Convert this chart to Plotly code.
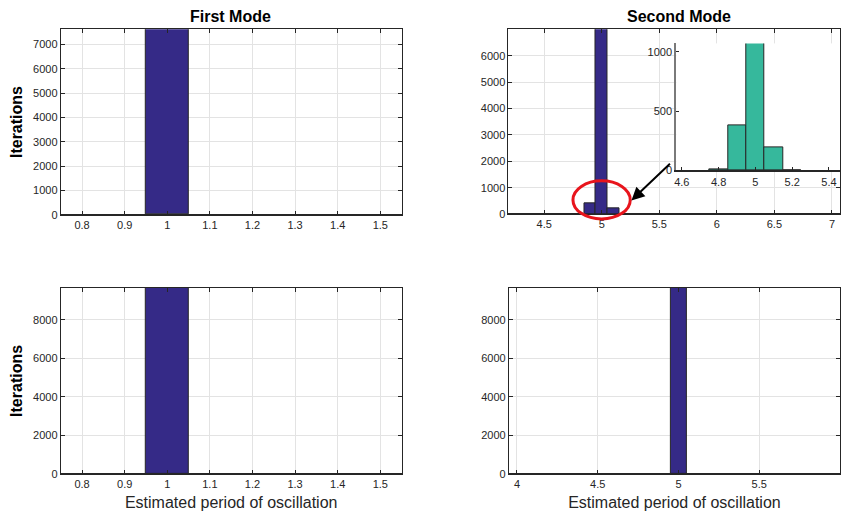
import plotly.graph_objects as go

# ---------------- data ----------------
bin_width = 0.1

mode1_top_centers = [1.0]
mode1_top_counts = [10000]

mode2_top_centers = [4.8, 4.9, 5.0, 5.1, 5.2]
mode2_top_counts = [5, 405, 9385, 200, 5]

mode1_bot_centers = [1.0]
mode1_bot_counts = [10000]

mode2_bot_centers = [5.0]
mode2_bot_counts = [10000]

inset_centers = [4.8, 4.9, 5.0, 5.1, 5.2]
inset_counts = [5, 380, 1100, 192, 3]

titles = ["First Mode", "Second Mode"]
ylabel = "Iterations"
xlabel = "Estimated period of oscillation"

W, H = 841, 516
HY = 509  # effective vertical scale of the rendered page
FONT = "Liberation Sans, Arial, Helvetica, sans-serif"
DARK = "#262626"
BAR = "#352a87"
TEAL = "#36b89c"
GRID = "#e3e3e3"


def dx(a, b):
    return [a / W, b / W]


def py(p):
    return 1 - p / HY


def dy(top, bottom):
    return [py(bottom), py(top)]


fig = go.Figure()

panels = [
    ("x", "y", mode1_top_centers, mode1_top_counts, BAR),
    ("x2", "y2", mode2_top_centers, mode2_top_counts, BAR),
    ("x3", "y3", mode1_bot_centers, mode1_bot_counts, BAR),
    ("x4", "y4", mode2_bot_centers, mode2_bot_counts, BAR),
    ("x5", "y5", inset_centers, inset_counts, TEAL),
]
for xa, ya, c, v, col in panels:
    fig.add_trace(go.Bar(
        x=c, y=v, width=bin_width, xaxis=xa, yaxis=ya,
        marker=dict(color=col, line=dict(color=DARK, width=1)),
        showlegend=False, hoverinfo="x+y",
    ))

tickfont = dict(family=FONT, size=11, color=DARK)


def main_x(domain, rng, tickvals, anchor, title=None):
    d = dict(domain=domain, range=rng, tickvals=tickvals, anchor=anchor,
             ticks="inside", ticklen=4, tickcolor=DARK,
             showline=True, linecolor=DARK, linewidth=1, mirror="allticks",
             showgrid=True, gridcolor=GRID, gridwidth=1, zeroline=False,
             tickfont=tickfont)
    if title:
        d["title"] = dict(text=title, font=dict(family=FONT, size=16, color=DARK), standoff=7)
    return d


def main_y(domain, rng, tickvals, anchor, title=None):
    d = dict(domain=domain, range=rng, tickvals=tickvals, anchor=anchor,
             ticks="inside", ticklen=4, tickcolor=DARK,
             showline=True, linecolor=DARK, linewidth=1, mirror="allticks",
             showgrid=True, gridcolor=GRID, gridwidth=1,
             zeroline=True, zerolinecolor=DARK, zerolinewidth=2,
             tickfont=tickfont)
    if title:
        d["title"] = dict(text="<b>" + title + "</b>",
                          font=dict(family=FONT, size=16, color="#000"), standoff=6)
    return d


fig.update_layout(
    width=W, height=H,
    margin=dict(l=0, r=0, t=0, b=0),
    paper_bgcolor="white", plot_bgcolor="white",
    bargap=0,
    font=dict(family=FONT, color=DARK),
    xaxis=main_x(dx(59, 401), [0.75, 1.55],
                 [0.8, 0.9, 1.0, 1.1, 1.2, 1.3, 1.4, 1.5], "y"),
    yaxis=main_y(dy(29.3, 214.3), [0, 7620],
                 [0, 1000, 2000, 3000, 4000, 5000, 6000, 7000], "x", ylabel),
    xaxis2=main_x(dx(508.3, 841), [4.19, 7.07],
                  [4.5, 5, 5.5, 6, 6.5, 7], "y2"),
    yaxis2=main_y(dy(29.3, 213.7), [0, 7000],
                  [0, 1000, 2000, 3000, 4000, 5000, 6000], "x2"),
    xaxis3=main_x(dx(59, 401), [0.75, 1.55],
                  [0.8, 0.9, 1.0, 1.1, 1.2, 1.3, 1.4, 1.5], "y3", xlabel),
    yaxis3=main_y(dy(287.3, 473), [0, 9670],
                  [0, 2000, 4000, 6000, 8000], "x3", ylabel),
    xaxis4=main_x(dx(508.7, 841), [3.95, 6.0],
                  [4, 4.5, 5, 5.5, 6], "y4", xlabel),
    yaxis4=main_y(dy(287.3, 473), [0, 9670],
                  [0, 2000, 4000, 6000, 8000], "x4"),
    xaxis5=dict(domain=dx(676.7, 841), range=[4.57, 5.46], anchor="y5",
                tickvals=[4.6, 4.8, 5.0, 5.2, 5.4], ticks="inside", ticklen=3,
                tickcolor=DARK, showline=True, linecolor=DARK, linewidth=2,
                showgrid=False, zeroline=False, tickfont=tickfont),
    yaxis5=dict(domain=dy(43.3, 170), range=[0, 1071], anchor="x5",
                tickvals=[0, 500, 1000], ticks="inside", ticklen=3,
                tickcolor=DARK, showline=True, linecolor="#7a7a7a", linewidth=2,
                showgrid=False, zeroline=False, tickfont=tickfont),
)

# white background for the inset (drawn inside the inset subplot layer)
fig.add_shape(type="rect", xref="x5 domain", yref="y5 domain",
              x0=0, x1=1, y0=0, y1=1,
              fillcolor="white", line=dict(width=0), layer="below")

# subplot titles
for txt, xc in zip(titles, [229.5, 679]):
    fig.add_annotation(text="<b>" + txt + "</b>", xref="paper", yref="paper",
                       x=xc / W, y=py(16.5), xanchor="center", yanchor="middle",
                       showarrow=False, font=dict(family=FONT, size=16, color="#000"))

# red ellipse highlighting the small bins
fig.add_shape(type="circle", xref="paper", yref="paper",
              x0=573 / W, x1=630.5 / W, y0=py(218.5), y1=py(180.5),
              line=dict(color="#e8141c", width=3))

# arrow pointing from inset to ellipse
fig.add_annotation(x=631.7 / W, y=py(200), xref="paper", yref="paper",
                   ax=40, ay=-38, showarrow=True, arrowhead=2, arrowsize=1.3,
                   arrowwidth=2, arrowcolor="#000", text="")

post = (
    "document.documentElement.style.margin='0';"
    "document.documentElement.style.overflow='hidden';"
    "document.body.style.margin='0';"
    "document.body.style.padding='0';"
    "document.body.style.overflow='hidden';"
    "var gd=document.getElementById('{plot_id}');"
    "gd.style.display='block';"
)
fig.write_html("out.html", post_script=post,
               config={"displayModeBar": False, "responsive": False})
